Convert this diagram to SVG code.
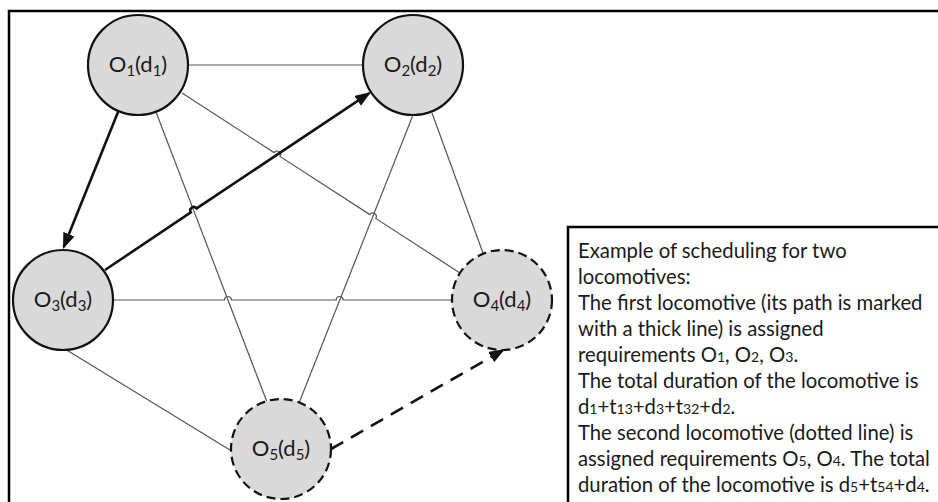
<svg xmlns="http://www.w3.org/2000/svg" width="938" height="502" viewBox="0 0 938 502">
<style>
.frame{fill:none;stroke:#000;stroke-width:2.5}
.node{fill:#d9d9d9;stroke:#111;stroke-width:2.2}
.dnode{fill:#d9d9d9;stroke:#111;stroke-width:2.2;stroke-dasharray:9 5}
.thin{fill:none;stroke:#555;stroke-width:1.2}
.thick{fill:none;stroke:#111;stroke-width:2.6}
.dash{fill:none;stroke:#111;stroke-width:2.6;stroke-dasharray:14 9}
.lbl{font-family:Lato,"Liberation Sans",sans-serif;font-size:22px;fill:#1a1a1a;text-anchor:middle}
.sub{font-size:15px}
.txt{font-family:Lato,"Liberation Sans",sans-serif;font-size:20.3px;fill:#1a1a1a}
.s{font-size:14px}
</style>
<defs>
<marker id="ah" markerUnits="userSpaceOnUse" markerWidth="18" markerHeight="14" refX="14" refY="6" orient="auto">
<path d="M0,0 L16,6 L0,12 z" fill="#111" stroke="none"/>
</marker>
</defs>
<path class="frame" d="M9,505 V11 H940"/>
<g id="connectors">
<path class="thin" d="M189,65 H363"/>
<path class="thin" d="M182,93 L274.06,152.6 A3.5,3.5 0 0 1 279.94,156.4 L369.86,214.6 A3.5,3.5 0 0 1 375.74,218.4 L460,273"/>
<path class="thin" d="M156,112 L267,402"/>
<path class="thin" d="M413,115 L299,403"/>
<path class="thin" d="M432,113 L483,253"/>
<path class="thin" d="M113,300 H224.5 A3.5,3.5 0 0 1 231.5,300 H336.2 A3.5,3.5 0 0 1 343.2,300 H452"/>
<path class="thin" d="M65,349 L230,450"/>
<path class="thick" d="M118,112 L63.7,247.1" marker-end="url(#ah)"/>
<path class="thick" d="M105,270 L190.8,212.35 A3.5,3.5 0 0 1 196.6,208.45 L369.3,93.1" marker-end="url(#ah)"/>
<path class="dash" d="M331,449 L503.3,350" marker-end="url(#ah)"/>
</g>
<g id="O1"><circle class="node" cx="138" cy="65" r="50"/><text class="lbl" x="138" y="72">O<tspan class="sub" dy="4">1</tspan><tspan dy="-4">(d</tspan><tspan class="sub" dy="4">1</tspan><tspan dy="-4">)</tspan></text></g>
<g id="O2"><circle class="node" cx="413" cy="65" r="50"/><text class="lbl" x="413" y="72">O<tspan class="sub" dy="4">2</tspan><tspan dy="-4">(d</tspan><tspan class="sub" dy="4">2</tspan><tspan dy="-4">)</tspan></text></g>
<g id="O3"><circle class="node" cx="63" cy="300" r="50"/><text class="lbl" x="63" y="307">O<tspan class="sub" dy="4">3</tspan><tspan dy="-4">(d</tspan><tspan class="sub" dy="4">3</tspan><tspan dy="-4">)</tspan></text></g>
<g id="O4"><circle class="dnode" cx="502" cy="300" r="50"/><text class="lbl" x="502" y="307">O<tspan class="sub" dy="4">4</tspan><tspan dy="-4">(d</tspan><tspan class="sub" dy="4">4</tspan><tspan dy="-4">)</tspan></text></g>
<g id="O5"><circle class="dnode" cx="281" cy="449" r="50"/><text class="lbl" x="281" y="456">O<tspan class="sub" dy="4">5</tspan><tspan dy="-4">(d</tspan><tspan class="sub" dy="4">5</tspan><tspan dy="-4">)</tspan></text></g>
<g id="note">
<path class="frame" d="M568,505 V227 H940"/>
<text class="txt" x="578" y="258">Example of scheduling for two</text>
<text class="txt" x="578" y="284">locomotives:</text>
<text class="txt" x="578" y="310">The first locomotive (its path is marked</text>
<text class="txt" x="578" y="336">with a thick line) is assigned</text>
<text class="txt" x="578" y="362">requirements O<tspan class="s">1</tspan>, O<tspan class="s">2</tspan>, O<tspan class="s">3</tspan>.</text>
<text class="txt" x="578" y="388">The total duration of the locomotive is</text>
<text class="txt" x="578" y="414">d<tspan class="s">1</tspan>+t<tspan class="s">13</tspan>+d<tspan class="s">3</tspan>+t<tspan class="s">32</tspan>+d<tspan class="s">2</tspan>.</text>
<text class="txt" x="578" y="440">The second locomotive (dotted line) is</text>
<text class="txt" x="578" y="466">assigned requirements O<tspan class="s">5</tspan>, O<tspan class="s">4</tspan>. The total</text>
<text class="txt" x="578" y="492">duration of the locomotive is d<tspan class="s">5</tspan>+t<tspan class="s">54</tspan>+d<tspan class="s">4</tspan>.</text>
</g>
</svg>
